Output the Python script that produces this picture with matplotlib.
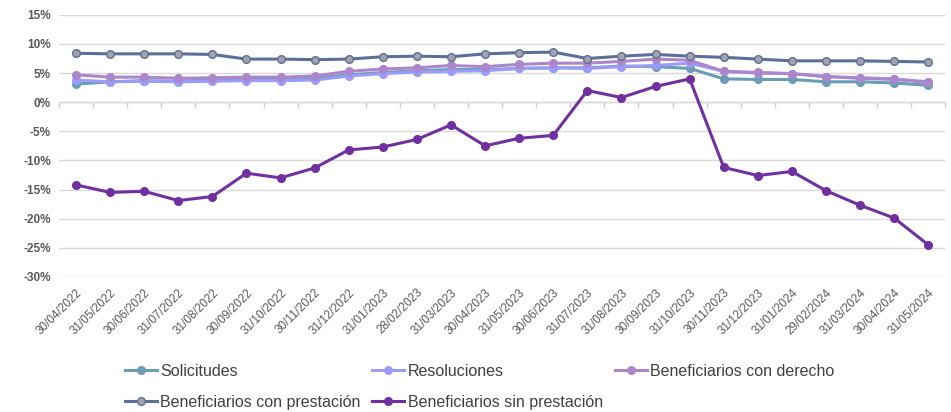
import matplotlib
matplotlib.use("Agg")
import matplotlib.pyplot as plt
from matplotlib.ticker import FuncFormatter, FixedLocator

plt.rcParams['font.family'] = ['Liberation Sans', 'DejaVu Sans']

fechas = ['30/04/2022', '31/05/2022', '30/06/2022', '31/07/2022', '31/08/2022',
          '30/09/2022', '31/10/2022', '30/11/2022', '31/12/2022', '31/01/2023',
          '28/02/2023', '31/03/2023', '30/04/2023', '31/05/2023', '30/06/2023',
          '31/07/2023', '31/08/2023', '30/09/2023', '31/10/2023', '30/11/2023',
          '31/12/2023', '31/01/2024', '29/02/2024', '31/03/2024', '30/04/2024',
          '31/05/2024']

solicitudes = [3.1, 3.5, 3.7, 3.6, 3.8, 3.9, 3.9, 4.1, 4.7, 5.1, 5.4, 5.6, 5.6,
               5.8, 5.9, 5.9, 6.2, 6.1, 5.8, 4.0, 3.9, 3.9, 3.5, 3.5, 3.3, 2.9]
resoluciones = [3.8, 3.5, 3.6, 3.5, 3.6, 3.7, 3.7, 3.8, 4.5, 4.9, 5.2, 5.3, 5.4,
                5.8, 5.9, 5.8, 6.1, 6.3, 6.7, 5.3, 5.0, 4.9, 4.4, 4.2, 4.0, 3.5]
con_derecho = [4.7, 4.3, 4.3, 4.1, 4.2, 4.3, 4.3, 4.5, 5.3, 5.7, 5.9, 6.3, 6.1,
               6.5, 6.7, 6.7, 7.0, 7.4, 7.2, 5.3, 5.1, 4.9, 4.4, 4.1, 3.9, 3.4]
con_prestacion = [8.4, 8.3, 8.3, 8.3, 8.2, 7.4, 7.4, 7.3, 7.4, 7.8, 7.9, 7.8, 8.3,
                  8.5, 8.6, 7.5, 7.9, 8.2, 7.9, 7.7, 7.4, 7.1, 7.1, 7.1, 7.0, 6.9]
sin_prestacion = [-14.2, -15.5, -15.3, -16.9, -16.2, -12.2, -13.0, -11.3, -8.2,
                  -7.7, -6.4, -3.9, -7.5, -6.2, -5.7, 2.0, 0.8, 2.7, 4.0, -11.2,
                  -12.6, -11.9, -15.2, -17.7, -19.9, -24.5]

fig = plt.figure(figsize=(9.51, 4.12), dpi=100)
ax = fig.add_axes([0.062, 0.328, 0.932, 0.636])

x = list(range(len(fechas)))
lw = 2.2
ms = 5.5

h_sol, = ax.plot(x, solicitudes, color='#6A9DB4', lw=lw, marker='o', ms=ms, label='Solicitudes')
h_res, = ax.plot(x, resoluciones, color='#9B9BFA', lw=lw, marker='o', ms=ms, label='Resoluciones')
h_der, = ax.plot(x, con_derecho, color='#AC86CB', lw=lw, marker='o', ms=ms,
                 label='Beneficiarios con derecho')
h_con, = ax.plot(x, con_prestacion, color='#5B6F98', lw=lw, marker='o', ms=ms,
                 markerfacecolor='#A6A1AB', markeredgecolor='#5B6F98', markeredgewidth=1,
                 label='Beneficiarios con prestación')
h_sin, = ax.plot(x, sin_prestacion, color='#7030A0', lw=lw, marker='o', ms=ms,
                 label='Beneficiarios sin prestación')

ax.set_xlim(-0.5, len(fechas) - 0.5)
ax.set_ylim(-30, 15)
ax.set_yticks(range(-30, 16, 5))
ax.yaxis.set_major_formatter(FuncFormatter(lambda v, p: '%d%%' % v))
ax.grid(axis='y', color='#D9D9D9', lw=1)
ax.set_axisbelow(True)
for s in ax.spines.values():
    s.set_visible(False)

ax.set_xticks(x)
ax.set_xticklabels(fechas, rotation=45, ha='right', rotation_mode='anchor',
                   fontsize=8.5, color='#595959')
ax.tick_params(axis='x', length=0, pad=7)
ax.tick_params(axis='y', length=0, labelsize=8.5, labelcolor='#595959', pad=6)
for t in ax.get_yticklabels():
    t.set_fontweight('bold')

# zero axis with category tick marks
ax.axhline(0, color='#D9D9D9', lw=1, zorder=1)
sec = ax.secondary_xaxis(2 / 3)
sec.xaxis.set_ticks_position('bottom')
sec.xaxis.set_major_locator(FixedLocator([i - 0.5 for i in range(len(fechas) + 1)]))
sec.tick_params(axis='x', direction='out', length=4, width=1, color='#D0D0D0',
                labelbottom=False, labeltop=False)
sec.spines['bottom'].set_visible(False)
sec.spines['top'].set_visible(False)

handles = [h_sol, h_con, h_res, h_sin, h_der]
fig.legend(handles, [h.get_label() for h in handles], ncol=3, loc='lower left',
           bbox_to_anchor=(125 / 951, 2 / 412), frameon=False, fontsize=11.5,
           borderpad=0, borderaxespad=0,
           handlelength=2.0, handletextpad=0.2, columnspacing=0.75, labelspacing=1.0,
           labelcolor='#404040')

fig.savefig('out.png', dpi=100)
